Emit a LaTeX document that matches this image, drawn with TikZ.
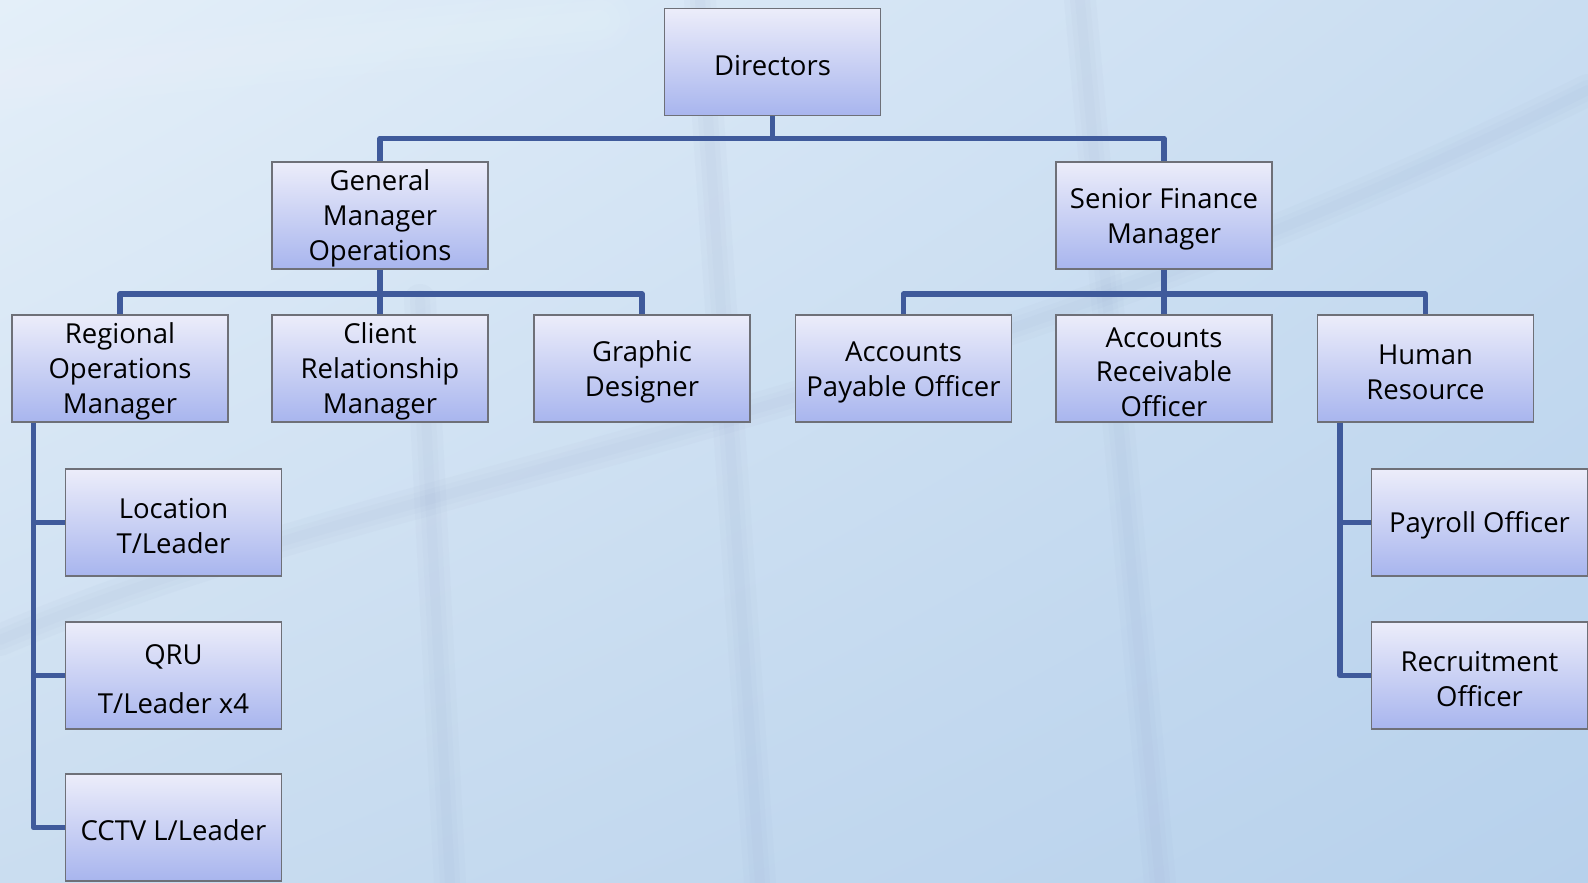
\documentclass[tikz,border=0pt]{standalone}
\usepackage{fontspec}
\setmainfont{Open Sans}
\usetikzlibrary{shadings}
\newcommand\tstrut{\rule{0pt}{27pt}}
\definecolor{bgA}{HTML}{E4EFF9}
\definecolor{bgB}{HTML}{C9DDF1}
\definecolor{bgC}{HTML}{CADDF0}
\definecolor{bgD}{HTML}{B7D1EC}
\definecolor{boxtop}{HTML}{ECEDFA}
\definecolor{boxbot}{HTML}{A8B5EE}
\definecolor{boxline}{HTML}{6E7078}
\definecolor{conncol}{HTML}{3F5A9B}
\tikzset{
  orgbox/.style={draw=boxline, line width=1.4pt, top color=boxtop, bottom color=boxbot,
    minimum width=216pt, minimum height=107pt, inner sep=0pt, align=center,
    text=black, font=\fontsize{27.5}{34.8}\selectfont},
  conn/.style={draw=conncol, line width=5.5pt, line join=round},
  softline/.style={line cap=round, draw=conncol!55}
}
\begin{document}
\begin{tikzpicture}[x=1pt,y=-1pt]
\useasboundingbox (0,0) rectangle (1588,883);
\shade[upper left=bgA, upper right=bgB, lower left=bgC, lower right=bgD] (0,0) rectangle (1588,883);
% soft background hints
\begin{scope}[opacity=0.05]
  \foreach \w in {10,20,32} {
    \draw[softline, line width=\w pt] (700,0) -- (760,883);
    \draw[softline, line width=\w pt] (1080,0) -- (1160,883);
    \draw[softline, line width=\w pt] (420,300) -- (450,883);
    \draw[softline, line width=\w pt] (0,640) .. controls (400,470) and (900,430) .. (1588,90);
  }
  \foreach \w in {20,40,60} {
    \draw[line width=\w pt, white, line cap=round] (0,80) -- (600,20);
  }
\end{scope}
\coordinate (bus1) at (0,138.5);
\coordinate (bus2) at (0,294);
\coordinate (lv) at (33.5,0);
\coordinate (rv) at (1340,0);

\node[orgbox] (dir) at (772.5,62) {\tstrut Directors};
\node[orgbox] (gm) at (380,215.5) {\tstrut General\\Manager\\Operations};
\node[orgbox] (sfm) at (1164,215.5) {\tstrut Senior Finance\\Manager};

\node[orgbox] (reg) at (120,368.5) {\tstrut Regional\\Operations\\Manager};
\node[orgbox] (crm) at (380,368.5) {\tstrut Client\\Relationship\\Manager};
\node[orgbox] (gd) at (642,368.5) {\tstrut Graphic\\Designer};
\node[orgbox] (ap) at (903.5,368.5) {\tstrut Accounts\\Payable Officer};
\node[orgbox] (ar) at (1164,368.5) {\tstrut Accounts\\Receivable\\Officer};
\node[orgbox] (hr) at (1425.5,368.5) {\tstrut Human\\Resource};

\node[orgbox] (loc) at (173.5,522.5) {\tstrut Location\\T/Leader};
\node[orgbox] (qru) at (173.5,675.5) {\tstrut QRU\\[14.5pt]T/Leader x4};
\node[orgbox] (cctv) at (173.5,827.5) {\tstrut CCTV L/Leader};

\node[orgbox] (pay) at (1479.5,522.5) {\tstrut Payroll Officer};
\node[orgbox] (rec) at (1479.5,675.5) {\tstrut Recruitment\\Officer};

\draw[conn] (dir.south) -- (dir.south |- bus1);
\draw[conn] (gm.north) -- (gm.north |- bus1) -- (sfm.north |- bus1) -- (sfm.north);

\draw[conn] (gm.south) -- (gm.south |- bus2);
\draw[conn] (reg.north) -- (reg.north |- bus2) -- (gd.north |- bus2) -- (gd.north);
\draw[conn] (crm.north) -- (crm.north |- bus2);

\draw[conn] (sfm.south) -- (sfm.south |- bus2);
\draw[conn] (ap.north) -- (ap.north |- bus2) -- (hr.north |- bus2) -- (hr.north);
\draw[conn] (ar.north) -- (ar.north |- bus2);

\draw[conn] (reg.south -| lv) |- (cctv.west);
\draw[conn] (loc.west -| lv) -- (loc.west);
\draw[conn] (qru.west -| lv) -- (qru.west);

\draw[conn] (hr.south -| rv) |- (rec.west);
\draw[conn] (pay.west -| rv) -- (pay.west);
\end{tikzpicture}
\end{document}
